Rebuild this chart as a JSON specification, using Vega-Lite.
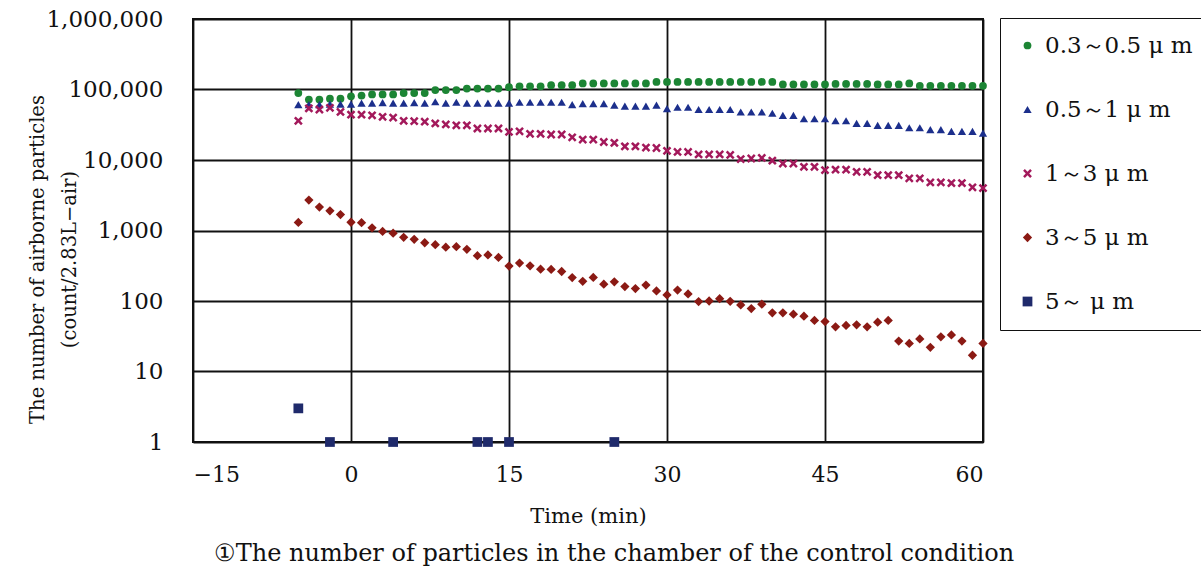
{
  "$schema": "https://vega.github.io/schema/vega-lite/v6.json",
  "width": 790,
  "height": 423,
  "autosize": {"type": "none"},
  "padding": {"left": 193, "top": 19, "right": 218, "bottom": 133},
  "background": "white",
  "config": {
    "font": "DejaVu Serif",
    "view": {"stroke": "#111", "strokeWidth": 2},
    "axis": {"gridColor": "#111", "gridWidth": 1.8, "gridOpacity": 1, "domain": false, "ticks": false, "labelFont": "DejaVu Serif", "labelColor": "#111", "titleFont": "DejaVu Serif", "titleColor": "#111", "titleFontWeight": "normal"}
  },
  "title": {
    "text": "①The number of particles in the chamber of the control condition",
    "orient": "bottom",
    "anchor": "middle",
    "offset": 16,
    "dx": 26,
    "font": "DejaVu Serif",
    "fontSize": 24,
    "fontWeight": "normal",
    "color": "#111"
  },
  "data": {
    "values": [
      {"time": -5, "a": 89000, "b": 61000, "c": 36000, "d": 1300, "e": 3},
      {"time": -4, "a": 72000, "b": 61000, "c": 54000, "d": 2700},
      {"time": -3, "a": 72000, "b": 61000, "c": 52000, "d": 2150},
      {"time": -2, "a": 74000, "b": 62000, "c": 55000, "d": 1900, "e": 1},
      {"time": -1, "a": 74000, "b": 62000, "c": 48000, "d": 1680},
      {"time": 0, "a": 80000, "b": 62000, "c": 44000, "d": 1310},
      {"time": 1, "a": 82000, "b": 64000, "c": 44000, "d": 1290},
      {"time": 2, "a": 85000, "b": 64000, "c": 43000, "d": 1090},
      {"time": 3, "a": 85000, "b": 65000, "c": 41000, "d": 970},
      {"time": 4, "a": 85000, "b": 64000, "c": 40000, "d": 915, "e": 1},
      {"time": 5, "a": 89000, "b": 64000, "c": 36000, "d": 800},
      {"time": 6, "a": 89000, "b": 65000, "c": 35500, "d": 750},
      {"time": 7, "a": 89000, "b": 64000, "c": 35000, "d": 670},
      {"time": 8, "a": 98000, "b": 67000, "c": 33000, "d": 630},
      {"time": 9, "a": 98000, "b": 64000, "c": 32000, "d": 580},
      {"time": 10, "a": 98000, "b": 66000, "c": 31000, "d": 590},
      {"time": 11, "a": 103000, "b": 64000, "c": 31000, "d": 540},
      {"time": 12, "a": 103000, "b": 64000, "c": 28000, "d": 440, "e": 1},
      {"time": 13, "a": 103000, "b": 64000, "c": 28000, "d": 450, "e": 1},
      {"time": 14, "a": 103000, "b": 64000, "c": 28000, "d": 415},
      {"time": 15, "a": 108000, "b": 64000, "c": 25000, "d": 313, "e": 1},
      {"time": 16, "a": 111000, "b": 66000, "c": 25500, "d": 345},
      {"time": 17, "a": 111000, "b": 66000, "c": 23500, "d": 316},
      {"time": 18, "a": 111000, "b": 66000, "c": 23500, "d": 283},
      {"time": 19, "a": 115000, "b": 66000, "c": 23000, "d": 280},
      {"time": 20, "a": 115000, "b": 66000, "c": 23000, "d": 262},
      {"time": 21, "a": 115000, "b": 61000, "c": 21000, "d": 215},
      {"time": 22, "a": 122000, "b": 63000, "c": 19500, "d": 190},
      {"time": 23, "a": 122000, "b": 63000, "c": 19500, "d": 216},
      {"time": 24, "a": 122000, "b": 63000, "c": 18000, "d": 173},
      {"time": 25, "a": 122000, "b": 60000, "c": 17500, "d": 187, "e": 1},
      {"time": 26, "a": 122000, "b": 58000, "c": 15600, "d": 160},
      {"time": 27, "a": 122000, "b": 58000, "c": 15600, "d": 150},
      {"time": 28, "a": 122000, "b": 58000, "c": 15000, "d": 168},
      {"time": 29, "a": 128000, "b": 60000, "c": 14800, "d": 139},
      {"time": 30, "a": 128000, "b": 53500, "c": 13500, "d": 122},
      {"time": 31, "a": 128000, "b": 56000, "c": 13000, "d": 143},
      {"time": 32, "a": 128000, "b": 56000, "c": 13000, "d": 126},
      {"time": 33, "a": 128000, "b": 52000, "c": 12000, "d": 98},
      {"time": 34, "a": 128000, "b": 52000, "c": 12000, "d": 100},
      {"time": 35, "a": 128000, "b": 52000, "c": 12000, "d": 108},
      {"time": 36, "a": 128000, "b": 52000, "c": 11800, "d": 99},
      {"time": 37, "a": 128000, "b": 48000, "c": 10300, "d": 88},
      {"time": 38, "a": 128000, "b": 48000, "c": 10500, "d": 78},
      {"time": 39, "a": 128000, "b": 48000, "c": 10700, "d": 90},
      {"time": 40, "a": 128000, "b": 46000, "c": 9800, "d": 68},
      {"time": 41, "a": 118000, "b": 43000, "c": 8900, "d": 68},
      {"time": 42, "a": 118000, "b": 43000, "c": 8900, "d": 65},
      {"time": 43, "a": 118000, "b": 38500, "c": 8000, "d": 61},
      {"time": 44, "a": 118000, "b": 38500, "c": 8000, "d": 53},
      {"time": 45, "a": 118000, "b": 38500, "c": 7200, "d": 51},
      {"time": 46, "a": 120000, "b": 36000, "c": 7300, "d": 43},
      {"time": 47, "a": 120000, "b": 36000, "c": 7300, "d": 45},
      {"time": 48, "a": 120000, "b": 33000, "c": 6800, "d": 46},
      {"time": 49, "a": 120000, "b": 33000, "c": 6800, "d": 43},
      {"time": 50, "a": 118000, "b": 31000, "c": 6100, "d": 50},
      {"time": 51, "a": 118000, "b": 31000, "c": 6100, "d": 53},
      {"time": 52, "a": 118000, "b": 31000, "c": 6100, "d": 27},
      {"time": 53, "a": 122000, "b": 28700, "c": 5500, "d": 25},
      {"time": 54, "a": 113000, "b": 28700, "c": 5500, "d": 29},
      {"time": 55, "a": 113000, "b": 26900, "c": 4800, "d": 22},
      {"time": 56, "a": 113000, "b": 26900, "c": 4800, "d": 31},
      {"time": 57, "a": 113000, "b": 25400, "c": 4700, "d": 33},
      {"time": 58, "a": 113000, "b": 25400, "c": 4700, "d": 27},
      {"time": 59, "a": 113000, "b": 25400, "c": 4100, "d": 17},
      {"time": 60, "a": 113000, "b": 24000, "c": 4000, "d": 25}
    ]
  },
  "transform": [
    {"fold": ["a", "b", "c", "d", "e"], "as": ["series", "count"]},
    {"filter": "isValid(datum.count)"}
  ],
  "mark": {"type": "point", "filled": true, "opacity": 1, "strokeWidth": 0},
  "encoding": {
    "x": {
      "field": "time",
      "type": "quantitative",
      "scale": {"domain": [-15, 60], "nice": false, "zero": false},
      "axis": {
        "values": [-15, 0, 15, 30, 45, 60],
        "title": "Time (min)",
        "labelFontSize": 22,
        "labelPadding": 22,
        "titleFontSize": 21,
        "titlePadding": 20
      }
    },
    "y": {
      "field": "count",
      "type": "quantitative",
      "scale": {"type": "log", "domain": [1, 1000000], "nice": false},
      "axis": {
        "values": [1, 10, 100, 1000, 10000, 100000, 1000000],
        "format": ",",
        "title": ["The number of airborne particles", "(count/2.83L−air)"],
        "titleFontSize": 19.5,
        "titleLineHeight": 32,
        "titleX": -146,
        "titleY": 240,
        "labelFontSize": 23,
        "labelPadding": 30
      }
    },
    "color": {
      "field": "series",
      "type": "nominal",
      "scale": {"domain": ["a", "b", "c", "d", "e"], "range": ["#1c8534", "#1c2f8c", "#a3195b", "#8b1a14", "#1f2a6b"]},
      "legend": {
        "title": null,
        "orient": "none",
        "legendX": 807,
        "legendY": -1,
        "strokeColor": "#111",
        "fillColor": "white",
        "padding": 16,
        "labelFont": "DejaVu Serif",
        "labelFontSize": 23,
        "labelLimit": 300,
        "labelColor": "#111",
        "symbolSize": 40,
        "rowPadding": 40,
        "labelOffset": 6,
        "labelExpr": "{'a': '0.3～0.5 μ m', 'b': '0.5～1 μ m', 'c': '1～3 μ m', 'd': '3～5 μ m', 'e': '5～ μ m'}[datum.label]"
      }
    },
    "shape": {
      "field": "series",
      "type": "nominal",
      "scale": {"domain": ["a", "b", "c", "d", "e"], "range": ["circle", "triangle-up", "M-1,-0.6L-0.6,-1L0,-0.4L0.6,-1L1,-0.6L0.4,0L1,0.6L0.6,1L0,0.4L-0.6,1L-1,0.6L-0.4,0Z", "diamond", "square"]}
    },
    "size": {
      "field": "series",
      "type": "nominal",
      "scale": {"domain": ["a", "b", "c", "d", "e"], "range": [60, 95, 110, 105, 55]},
      "legend": null
    }
  }
}
